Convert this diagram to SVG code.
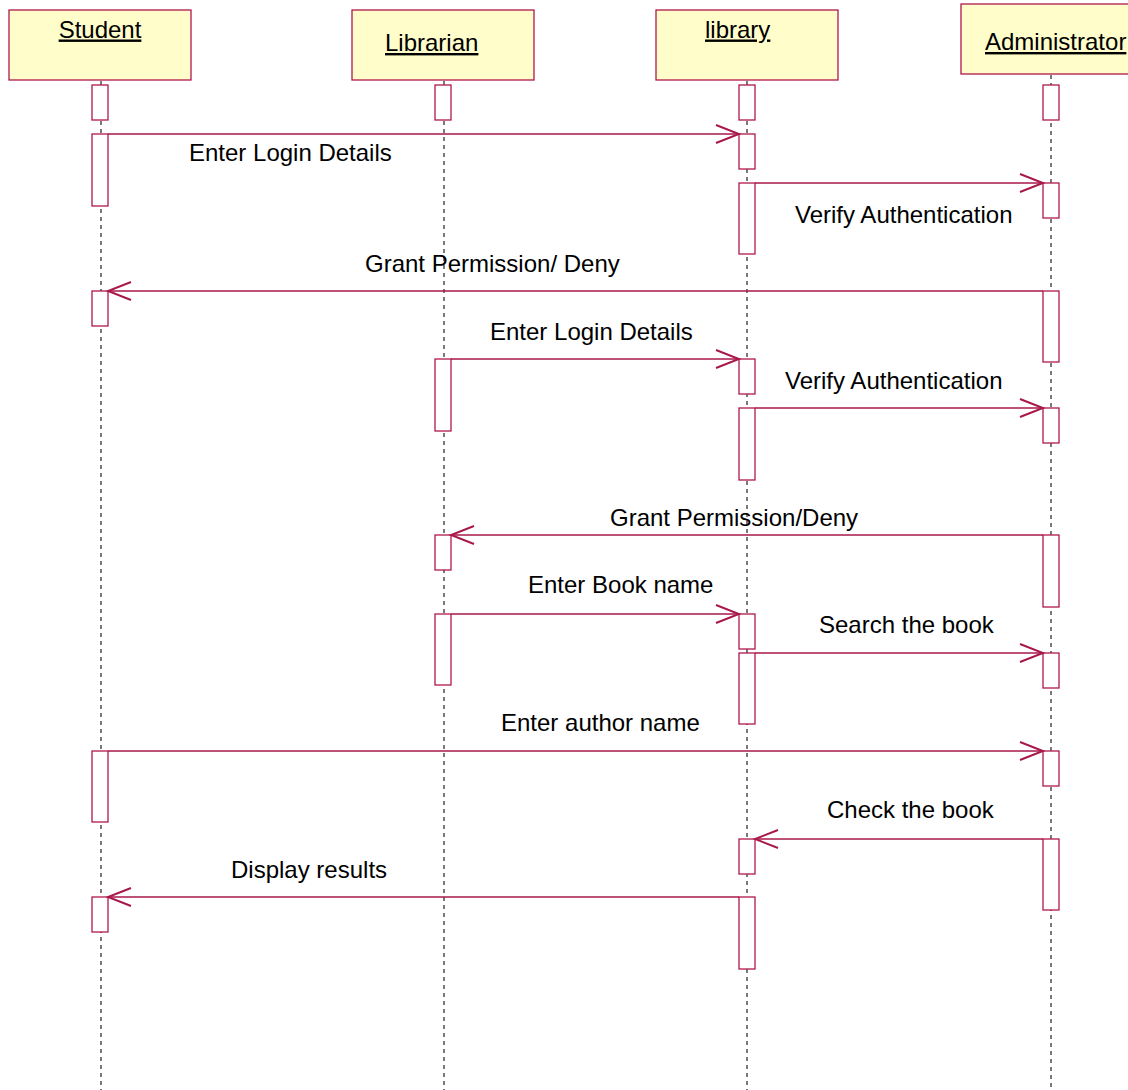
<svg xmlns="http://www.w3.org/2000/svg" width="1128" height="1090" viewBox="0 0 1128 1090">
  <style>
    .obj { fill: #FFFDCA; stroke: #B0184E; stroke-width: 1.3; }
    .title { font-family: "Liberation Sans", Arial, sans-serif; font-size: 24px; fill: #000; text-decoration: underline; }
    .life { stroke: #222; stroke-width: 1.2; stroke-dasharray: 4 4; fill: none; }
    .act { fill: #fff; stroke: #B0184E; stroke-width: 1.3; }
    .msg { stroke: #A8174A; stroke-width: 1.3; fill: none; }
    .head { stroke: #A8174A; stroke-width: 1.9; fill: none; }
    .lbl { font-family: "Liberation Sans", Arial, sans-serif; font-size: 24px; fill: #000; }
  </style>
  <rect width="1128" height="1090" fill="#fff"/>

  <!-- lifelines -->
  <g id="lifelines">
    <line class="life" x1="101" y1="81" x2="101" y2="1090"/>
    <line class="life" x1="444" y1="81" x2="444" y2="1090"/>
    <line class="life" x1="747" y1="81" x2="747" y2="1090"/>
    <line class="life" x1="1051" y1="75" x2="1051" y2="1090"/>
  </g>

  <!-- objects -->
  <g id="student">
    <rect class="obj" x="9" y="10" width="182" height="70"/>
    <text class="title" x="100" y="37.5" text-anchor="middle">Student</text>
    <rect class="act" x="92" y="85" width="16" height="35"/>
    <rect class="act" x="92" y="134" width="16" height="72"/>
    <rect class="act" x="92" y="291" width="16" height="35"/>
    <rect class="act" x="92" y="751" width="16" height="71"/>
    <rect class="act" x="92" y="897" width="16" height="35"/>
  </g>
  <g id="librarian">
    <rect class="obj" x="352" y="10" width="182" height="70"/>
    <text class="title" x="385" y="51">Librarian</text>
    <rect class="act" x="435" y="85" width="16" height="35"/>
    <rect class="act" x="435" y="359" width="16" height="72"/>
    <rect class="act" x="435" y="535" width="16" height="35"/>
    <rect class="act" x="435" y="614" width="16" height="71"/>
  </g>
  <g id="library">
    <rect class="obj" x="656" y="10" width="182" height="70"/>
    <text class="title" x="705" y="37.5">library</text>
    <rect class="act" x="739" y="85" width="16" height="35"/>
    <rect class="act" x="739" y="134" width="16" height="35"/>
    <rect class="act" x="739" y="183" width="16" height="71"/>
    <rect class="act" x="739" y="359" width="16" height="35"/>
    <rect class="act" x="739" y="408" width="16" height="72"/>
    <rect class="act" x="739" y="614" width="16" height="35"/>
    <rect class="act" x="739" y="653" width="16" height="71"/>
    <rect class="act" x="739" y="839" width="16" height="35"/>
    <rect class="act" x="739" y="897" width="16" height="72"/>
  </g>
  <g id="administrator">
    <rect class="obj" x="961" y="4" width="190" height="70"/>
    <text class="title" x="985" y="50">Administrator</text>
    <rect class="act" x="1043" y="85" width="16" height="35"/>
    <rect class="act" x="1043" y="183" width="16" height="35"/>
    <rect class="act" x="1043" y="291" width="16" height="71"/>
    <rect class="act" x="1043" y="408" width="16" height="35"/>
    <rect class="act" x="1043" y="535" width="16" height="72"/>
    <rect class="act" x="1043" y="653" width="16" height="35"/>
    <rect class="act" x="1043" y="751" width="16" height="35"/>
    <rect class="act" x="1043" y="839" width="16" height="71"/>
  </g>

  <!-- messages -->
  <g id="connectors">
    <line class="msg" x1="108" y1="134" x2="739" y2="134"/>
    <polyline class="head" points="716,125 739,134 716,143"/>

    <line class="msg" x1="755" y1="183" x2="1043" y2="183"/>
    <polyline class="head" points="1020,174 1043,183 1020,192"/>

    <line class="msg" x1="1043" y1="291" x2="108" y2="291"/>
    <polyline class="head" points="131,282 108,291 131,300"/>

    <line class="msg" x1="451" y1="359" x2="739" y2="359"/>
    <polyline class="head" points="716,350 739,359 716,368"/>

    <line class="msg" x1="755" y1="408" x2="1043" y2="408"/>
    <polyline class="head" points="1020,399 1043,408 1020,417"/>

    <line class="msg" x1="1043" y1="535" x2="451" y2="535"/>
    <polyline class="head" points="474,526 451,535 474,544"/>

    <line class="msg" x1="451" y1="614" x2="739" y2="614"/>
    <polyline class="head" points="716,605 739,614 716,623"/>

    <line class="msg" x1="755" y1="653" x2="1043" y2="653"/>
    <polyline class="head" points="1020,644 1043,653 1020,662"/>

    <line class="msg" x1="108" y1="751" x2="1043" y2="751"/>
    <polyline class="head" points="1020,742 1043,751 1020,760"/>

    <line class="msg" x1="1043" y1="839" x2="755" y2="839"/>
    <polyline class="head" points="778,830 755,839 778,848"/>

    <line class="msg" x1="739" y1="897" x2="108" y2="897"/>
    <polyline class="head" points="131,888 108,897 131,906"/>
  </g>

  <!-- message labels -->
  <g id="labels">
    <text class="lbl" x="189" y="161">Enter Login Details</text>
    <text class="lbl" x="795" y="223">Verify Authentication</text>
    <text class="lbl" x="365" y="272">Grant Permission/ Deny</text>
    <text class="lbl" x="490" y="340">Enter Login Details</text>
    <text class="lbl" x="785" y="389">Verify Authentication</text>
    <text class="lbl" x="610" y="526">Grant Permission/Deny</text>
    <text class="lbl" x="528" y="593">Enter Book name</text>
    <text class="lbl" x="819" y="633">Search the book</text>
    <text class="lbl" x="501" y="731">Enter author name</text>
    <text class="lbl" x="827" y="818">Check the book</text>
    <text class="lbl" x="231" y="878">Display results</text>
  </g>
</svg>
